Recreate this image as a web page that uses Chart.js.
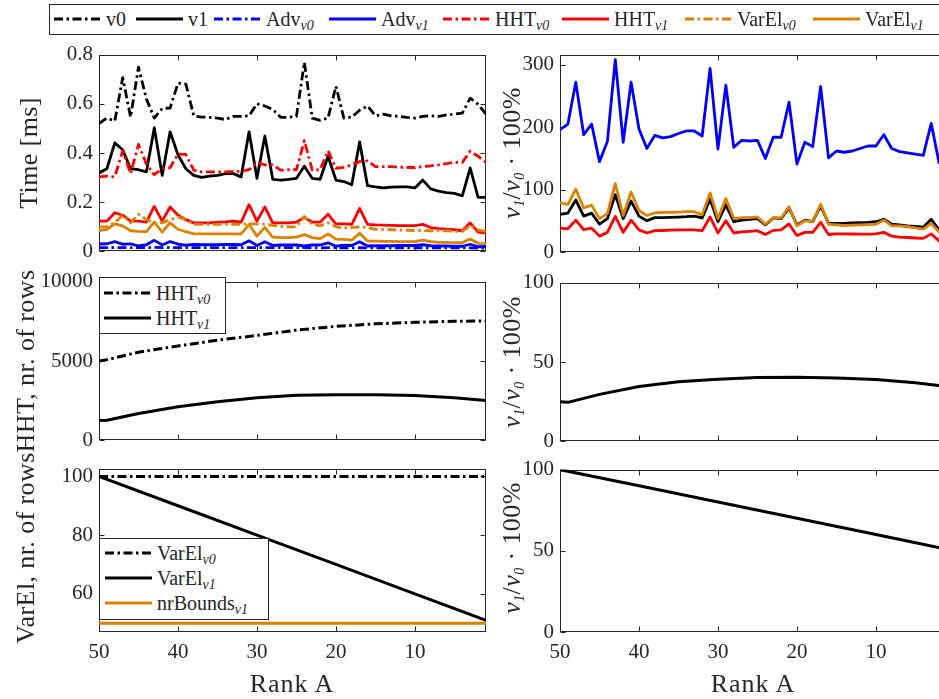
<!DOCTYPE html>
<html>
<head>
<meta charset="utf-8">
<script src="https://cdn.jsdelivr.net/npm/chart.js@4.4.1/dist/chart.umd.min.js"></script>
<style>
html,body{margin:0;padding:0;background:#fff;overflow:hidden;}
#stage{position:relative;width:939px;height:699px;overflow:hidden;background:#fff;font-family:'Liberation Serif','Times New Roman',serif;color:#262626;}
canvas{position:absolute;}
.ttl{position:absolute;white-space:nowrap;font-size:26px;line-height:1;letter-spacing:0.4px;transform:translate(-50%,-50%) rotate(-90deg);}
.xt{position:absolute;white-space:nowrap;font-size:26px;line-height:1;letter-spacing:1px;transform:translate(-50%,-50%);}
.lg{position:absolute;border:1px solid #262626;background:#fff;box-sizing:border-box;}
.ent{position:absolute;white-space:nowrap;font-size:20px;line-height:1;transform:translateY(-50%);display:flex;align-items:center;}
.ent svg{margin-right:5px;display:block;}
sub{font-size:14px;font-style:italic;vertical-align:-4px;line-height:0;}
i{font-style:italic;}
</style>
</head>
<body>
<div id="stage"></div>
<script>
// ---------- data ----------
const ranks = [50,49,48,47,46,45,44,43,42,41,40,39,38,37,36,35,34,33,32,31,30,29,28,27,26,25,24,23,22,21,20,19,18,17,16,15,14,13,12,11,10,9,8,7,6,5,4,3,2,1];
const rankTicks = [50,40,30,20,10];

// time [ms]
const timeV0 = [0.52,0.542,0.53,0.706,0.546,0.749,0.62,0.542,0.581,0.583,0.684,0.68,0.551,0.546,0.545,0.542,0.536,0.549,0.549,0.551,0.60,0.591,0.577,0.545,0.545,
                0.549,0.768,0.542,0.533,0.542,0.671,0.542,0.546,0.574,0.591,0.551,0.558,0.551,0.549,0.545,0.542,0.549,0.551,0.549,0.555,0.558,0.562,0.623,0.598,0.558];
const timeV1 = [0.319,0.336,0.441,0.413,0.336,0.332,0.323,0.503,0.309,0.486,0.393,0.336,0.309,0.301,0.306,0.309,0.316,0.316,0.303,0.486,0.297,0.469,0.293,0.290,0.293,
                0.297,0.346,0.297,0.293,0.387,0.290,0.284,0.271,0.445,0.267,0.262,0.258,0.261,0.262,0.262,0.258,0.290,0.254,0.245,0.239,0.236,0.226,0.339,0.220,0.220];
const advV0 = [0.015,0.015,0.016,0.015,0.015,0.015,0.015,0.016,0.015,0.016,0.015,0.015,0.015,0.015,0.015,0.015,0.015,0.015,0.015,0.015,0.015,0.015,0.015,0.015,0.015,
               0.015,0.015,0.014,0.014,0.015,0.015,0.014,0.014,0.015,0.014,0.014,0.014,0.014,0.014,0.014,0.014,0.014,0.014,0.014,0.014,0.014,0.014,0.014,0.013,0.013];
const advV1 = [0.030,0.031,0.040,0.029,0.031,0.022,0.027,0.045,0.026,0.040,0.030,0.025,0.028,0.027,0.027,0.027,0.028,0.028,0.027,0.043,0.024,0.039,0.024,0.026,0.026,
               0.026,0.022,0.026,0.026,0.035,0.021,0.025,0.024,0.039,0.022,0.023,0.023,0.023,0.024,0.024,0.024,0.027,0.023,0.022,0.022,0.021,0.021,0.029,0.019,0.020];
const hhtV0 = [0.303,0.306,0.303,0.409,0.316,0.435,0.355,0.312,0.336,0.340,0.396,0.394,0.330,0.323,0.323,0.323,0.323,0.325,0.326,0.332,0.362,0.352,0.352,0.330,0.332,
               0.332,0.450,0.330,0.332,0.409,0.338,0.342,0.352,0.365,0.368,0.345,0.345,0.345,0.342,0.342,0.340,0.345,0.348,0.352,0.357,0.362,0.362,0.407,0.387,0.362];
const hhtV1 = [0.123,0.123,0.157,0.147,0.123,0.123,0.119,0.183,0.123,0.181,0.147,0.129,0.116,0.116,0.116,0.119,0.120,0.123,0.119,0.190,0.123,0.181,0.116,0.116,0.116,
               0.119,0.138,0.119,0.119,0.151,0.112,0.112,0.110,0.175,0.110,0.108,0.107,0.106,0.105,0.105,0.105,0.110,0.097,0.093,0.090,0.088,0.084,0.116,0.078,0.074];
const varElV0 = [0.100,0.101,0.116,0.147,0.116,0.151,0.129,0.116,0.116,0.129,0.139,0.129,0.110,0.110,0.110,0.110,0.110,0.110,0.110,0.112,0.112,0.110,0.106,0.102,0.100,
                 0.100,0.142,0.110,0.104,0.116,0.100,0.095,0.097,0.100,0.097,0.090,0.089,0.088,0.087,0.086,0.085,0.085,0.084,0.084,0.084,0.081,0.081,0.104,0.087,0.081];
const varElV1 = [0.084,0.090,0.112,0.104,0.084,0.081,0.080,0.119,0.078,0.116,0.090,0.080,0.071,0.071,0.071,0.071,0.071,0.071,0.071,0.110,0.062,0.097,0.058,0.056,0.056,
                 0.058,0.068,0.056,0.052,0.071,0.050,0.049,0.046,0.074,0.042,0.042,0.041,0.041,0.040,0.040,0.040,0.046,0.040,0.037,0.037,0.036,0.036,0.050,0.033,0.032];

// ratio v1/v0 * 100 %
const ratioTotal = [60.7,62.8,83.7,58,62.8,45,54,92,54,82,58,50.5,55.6,55.6,56,56.5,57,58,55,84.7,49,76,49,51.5,52.6,
                    54,44,55,54,71,44,51.5,49,74.5,46.4,46.4,46.5,47,47.5,48,49,53,45,44,42.5,41.5,40.3,53,36,37];
const ratioAdv = [196,205,272,188,205,145,177,308,176,272,197,166,187,183,185,190,194,194,186,294,165,267,168,179,178,
                  179,150,184,184,240,141,176,169,265,151,162,160,162,166,170,170,188,166,161,159,157,155,206,143,152];
const ratioHHT = [38.8,37.7,51.5,36.2,38.8,26,32,57.6,32,51.5,36,31,34.7,35,35.5,36,36,36,34.7,56.6,31,50.5,31,32.7,33.7,
                  34.7,28.6,35.2,36,45.4,27,32,32,48,28.6,29.6,29.5,29.4,29.3,29.3,29.5,32,26,24.5,23.8,23,22.4,29.6,18.4,20];
const ratioVarEl = [79.6,76.5,101,71,75.5,54,62,110,59,96.4,67,59,63,64,64,64.5,65,65,60,95,54,86,54,55.6,55.6,
                    56.6,45,55.5,55,73,42.3,50.5,49,77,45,44,43,43.5,44,44.5,45,51.5,42.3,42.3,41,39,37.2,46.4,32.7,33];

// HHT, nr. of rows
const hhtRanks = [50,49,45,40,35,30,25,20,15,10,5,1];
const hhtRowsV0 = [5000,5080,5555,5950,6310,6610,6945,7180,7340,7440,7500,7520];
const hhtRowsV1 = [1250,1270,1690,2120,2440,2680,2840,2880,2880,2820,2680,2520];
const hhtRowsRatio = [25,24.6,29.6,34.6,37.6,39.2,40.2,40.4,40,39,37,34.6];

// VarEl, nr. of rows
const varElRanks = [50,40,30,20,10,1];
const varElRowsV0 = [100,100,100,100,100,100];
const varElRowsV1 = [100,90,80,70,60,51];
const nrBoundsV1 = [50,50,50,50,50,50];
const varElRowsRatio = [100,90,80,70,60,51];

// y tick labels
const ticksTime = [0,0.2,0.4,0.6,0.8];
const ticksRatioTop = [0,100,200,300];
const ticksHHT = [0,5000,10000];
const ticksPct = [0,50,100];
const ticksVarEl = [60,80,100];

// ---------- drawing ----------
const FONT = "'Liberation Serif','Times New Roman',serif";
const INK = '#262626';
const C = {k:'#000000', b:'#0000ff', r:'#ff0000', o:'#de8000'};
const DASHDOT = [9,3.5,2.5,3.5];

const framePlugin = {
  id:'frame',
  beforeDatasetsDraw(chart){
    const {ctx, chartArea:a, scales:{x,y}} = chart;
    ctx.save();
    ctx.strokeStyle = INK; ctx.lineWidth = 1;
    const L = Math.round(a.left)+0.5, T = Math.round(a.top)+0.5, R = Math.round(a.right)-0.5, B = Math.round(a.bottom)-0.5;
    ctx.strokeRect(L, T, R-L, B-T);
    const tl = 5;
    ctx.beginPath();
    x.ticks.forEach(t=>{const p=Math.round(x.getPixelForValue(t.value))+0.5; ctx.moveTo(p,B); ctx.lineTo(p,B-tl); ctx.moveTo(p,T); ctx.lineTo(p,T+tl);});
    y.ticks.forEach(t=>{const p=Math.round(y.getPixelForValue(t.value))+0.5; ctx.moveTo(L,p); ctx.lineTo(L+tl,p); ctx.moveTo(R,p); ctx.lineTo(R-tl,p);});
    ctx.stroke();
    ctx.restore();
  }
};

function ds(xs, ys, color, dashed, width, idx, n){
  return {
    data: xs.map((r,i)=>({x:r, y:ys[i]})),
    borderColor: color, backgroundColor: color,
    borderWidth: width, borderDash: dashed ? DASHDOT : [],
    borderJoinStyle:'round', borderCapStyle:'butt',
    pointRadius:0, tension:0, fill:false, order: n-idx
  };
}

function panel(box, yMin, yMax, yTicks, showX, series){
  const [pl,pt,pr,pb] = box;
  const L=80, T=14, R=14, B = showX ? 50 : 14;
  const W = pr-pl+L+R, H = pb-pt+T+B;
  const cv = document.createElement('canvas');
  cv.width = W; cv.height = H;
  cv.style.left = (pl-L)+'px'; cv.style.top = (pt-T)+'px';
  cv.style.width = W+'px'; cv.style.height = H+'px';
  document.getElementById('stage').appendChild(cv);
  const n = series.length;
  new Chart(cv, {
    type:'line',
    data:{datasets: series.map((s,i)=>ds(s[0],s[1],s[2],s[3],s[4],i,n))},
    options:{
      responsive:false, animation:false, devicePixelRatio:1,
      layout:{padding:{top:T,right:R,left:0,bottom:0}},
      plugins:{legend:{display:false}, tooltip:{enabled:false}},
      scales:{
        x:{type:'linear', reverse:true, min:1, max:50,
           afterBuildTicks:s=>{s.ticks = rankTicks.map(v=>({value:v}));},
           afterFit:s=>{s.height = B;},
           grid:{display:false, drawTicks:false}, border:{display:false},
           ticks:{display:showX, font:{family:FONT,size:21}, color:INK, padding:8, maxRotation:0, autoSkip:false, callback:v=>String(v)}},
        y:{type:'linear', min:yMin, max:yMax,
           afterBuildTicks:s=>{s.ticks = yTicks.map(v=>({value:v}));},
           afterFit:s=>{s.width = L;},
           grid:{display:false, drawTicks:false}, border:{display:false},
           ticks:{font:{family:FONT,size:21}, color:INK, padding:6, autoSkip:false, callback:v=>String(v)}}
      }
    },
    plugins:[framePlugin]
  });
}

// top-left: time
panel([99,50,486,256], 0, 0.8, ticksTime, false, [
  [ranks,timeV0,C.k,true,2.8],[ranks,timeV1,C.k,false,2.8],
  [ranks,advV0,C.b,true,2.8],[ranks,advV1,C.b,false,2.8],
  [ranks,hhtV0,C.r,true,2.8],[ranks,hhtV1,C.r,false,2.8],
  [ranks,varElV0,C.o,true,2.8],[ranks,varElV1,C.o,false,2.8]
]);
// top-right: ratios
panel([560,50,947,257], 0, 316, ticksRatioTop, false, [
  [ranks,ratioTotal,C.k,false,2.8],[ranks,ratioAdv,C.b,false,2.8],
  [ranks,ratioHHT,C.r,false,2.8],[ranks,ratioVarEl,C.o,false,2.8]
]);
// middle-left
panel([99,277,486,445], 0, 10000, ticksHHT, false, [
  [hhtRanks,hhtRowsV0,C.k,true,3],[hhtRanks,hhtRowsV1,C.k,false,3]
]);
// middle-right
panel([560,278,947,446], 0, 100, ticksPct, false, [
  [hhtRanks,hhtRowsRatio,C.k,false,3]
]);
// bottom-left
panel([99,464,486,632], 47, 102.65, ticksVarEl, true, [
  [varElRanks,varElRowsV0,C.k,true,3],[varElRanks,varElRowsV1,C.k,false,3],
  [varElRanks,nrBoundsV1,C.o,false,3]
]);
// bottom-right
panel([560,465,947,632], 0, 100, ticksPct, true, [
  [varElRanks,varElRowsRatio,C.k,false,3]
]);

// ---------- HTML text: titles and legends ----------
const st = document.getElementById('stage');
function add(html){ st.insertAdjacentHTML('beforeend', html); }
const ratioTitle = '<i>v</i><sub>1</sub>/<i>v</i><sub>0</sub> · 100%';
add(`<div class="ttl" style="left:29px;top:153px">Time [ms]</div>`);
add(`<div class="ttl" style="left:26px;top:361px">HHT, nr. of rows</div>`);
add(`<div class="ttl" style="left:26px;top:548px">VarEl, nr. of rows</div>`);
add(`<div class="ttl" style="left:512px;top:153px">${ratioTitle}</div>`);
add(`<div class="ttl" style="left:512px;top:362px">${ratioTitle}</div>`);
add(`<div class="ttl" style="left:512px;top:548px">${ratioTitle}</div>`);
add(`<div class="xt" style="left:292px;top:684px">Rank A</div>`);
add(`<div class="xt" style="left:753px;top:684px">Rank A</div>`);

function sample(color, dashed){
  return `<svg width="47" height="6"><line x1="0" y1="3" x2="47" y2="3" stroke="${color}" stroke-width="3" ${dashed?'stroke-dasharray="9 3.5 2.5 3.5"':''}/></svg>`;
}
function entry(x, y, color, dashed, label){
  add(`<div class="ent" style="left:${x}px;top:${y}px">${sample(color,dashed)}<span>${label}</span></div>`);
}
// top legend
add(`<div class="lg" style="left:49px;top:4px;width:905px;height:31px"></div>`);
const topLegend = [
  [54,C.k,true,'v0'],[136,C.k,false,'v1'],
  [214,C.b,true,'Adv<sub>v0</sub>'],[329,C.b,false,'Adv<sub>v1</sub>'],
  [443,C.r,true,'HHT<sub>v0</sub>'],[562,C.r,false,'HHT<sub>v1</sub>'],
  [685,C.o,true,'VarEl<sub>v0</sub>'],[813,C.o,false,'VarEl<sub>v1</sub>']
];
topLegend.forEach(e=>entry(e[0],19,e[1],e[2],e[3]));
// middle-left legend
add(`<div class="lg" style="left:99px;top:277px;width:127px;height:57px"></div>`);
entry(104,293,C.k,true,'HHT<sub>v0</sub>');
entry(104,318,C.k,false,'HHT<sub>v1</sub>');
// bottom-left legend
add(`<div class="lg" style="left:99px;top:538px;width:170px;height:82px"></div>`);
entry(105,553,C.k,true,'VarEl<sub>v0</sub>');
entry(105,578,C.k,false,'VarEl<sub>v1</sub>');
entry(105,603,C.o,false,'nrBounds<sub>v1</sub>');
</script>
</body>
</html>
